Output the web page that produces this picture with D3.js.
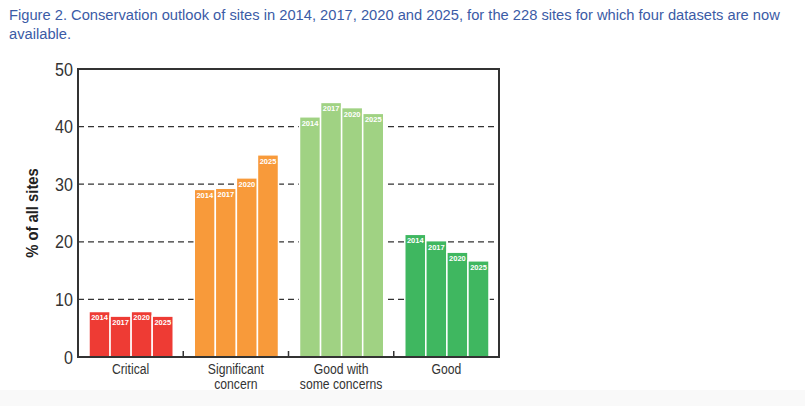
<!DOCTYPE html>
<html>
<head>
<meta charset="utf-8">
<script src="https://cdn.jsdelivr.net/npm/d3@7"></script>
<style>
  body { margin: 0; background: #fff; }
  svg { display: block; }
  .narrow { font-family: "Liberation Sans Narrow", "Arial Narrow", "Liberation Sans", sans-serif; }
</style>
</head>
<body>
<div id="chart"></div>
<script>
// data
var categories = ["Critical", "Significant concern", "Good with some concerns", "Good"];
var categoryLines = [["Critical"], ["Significant", "concern"], ["Good with", "some concerns"], ["Good"]];
var years = ["2014", "2017", "2020", "2025"];
var critical = [7.9, 7.1, 7.9, 7.1];
var significant = [29.1, 29.3, 31.1, 35.1];
var goodConcerns = [41.7, 44.2, 43.3, 42.3];
var good = [21.3, 20.2, 18.2, 16.7];
var yTicks = [0, 10, 20, 30, 40, 50];

var seriesByCategory = [critical, significant, goodConcerns, good];
var colors = ["#ee3b34", "#f89a3a", "#a0d283", "#3fb760"];

var width = 805, height = 406;
var plot = { left: 78, right: 499, top: 69, bottom: 357 };
var squeeze = 0.87; // fake a condensed face, no narrow font installed

var svg = d3.select("#chart").append("svg")
  .attr("width", width)
  .attr("height", height);

// light band at the bottom of the screenshot
svg.append("rect")
  .attr("x", 0).attr("y", 390)
  .attr("width", width).attr("height", height - 390)
  .attr("fill", "#f9f9f9");

// title
var title = svg.append("text")
  .attr("class", "narrow")
  .attr("fill", "#3b5ba6")
  .attr("font-size", 14.7);
title.append("tspan").attr("x", 9).attr("y", 20)
  .text("Figure 2. Conservation outlook of sites in 2014, 2017, 2020 and 2025, for the 228 sites for which four datasets are now");
title.append("tspan").attr("x", 9).attr("y", 39)
  .text("available.");

var y = d3.scaleLinear().domain([0, 50]).range([plot.bottom, plot.top]);
var x0 = d3.scaleBand().domain(categories).range([plot.left, plot.right]);
var x1 = d3.scaleBand().domain(years).range([11, x0.bandwidth() - 10]);

var g = svg.append("g");

// dashed grid lines
g.selectAll("line.grid")
  .data(yTicks.filter(function(d){ return d > 0 && d < 50; }))
  .enter().append("line")
  .attr("class", "grid")
  .attr("x1", plot.left).attr("x2", plot.right)
  .attr("y1", function(d){ return y(d); })
  .attr("y2", function(d){ return y(d); })
  .attr("stroke", "#333")
  .attr("stroke-width", 1.2)
  .attr("stroke-dasharray", "6,4");

// bars
categories.forEach(function(cat, i){
  var col = g.append("g")
    .attr("transform", "translate(" + x0(cat) + ",0)");

  col.selectAll("rect")
    .data(seriesByCategory[i])
    .enter().append("rect")
    .attr("x", function(d, j){ return x1(years[j]); })
    .attr("y", function(d){ return y(d); })
    .attr("width", x1.bandwidth())
    .attr("height", function(d){ return y(0) - y(d); })
    .attr("fill", colors[i])
    .attr("stroke", "#fff")
    .attr("stroke-width", 1.5);

  col.selectAll("text")
    .data(seriesByCategory[i])
    .enter().append("text")
    .attr("class", "narrow")
    .attr("x", function(d, j){ return x1(years[j]) + x1.bandwidth() / 2; })
    .attr("y", function(d){ return y(d) + 9; })
    .attr("text-anchor", "middle")
    .attr("font-size", 7.5)
    .attr("font-weight", "bold")
    .attr("fill", "#fff")
    .text(function(d, j){ return years[j]; });
});

// small ticks between groups
g.selectAll("line.sep")
  .data(categories.slice(1))
  .enter().append("line")
  .attr("x1", function(d){ return x0(d); })
  .attr("x2", function(d){ return x0(d); })
  .attr("y1", plot.bottom)
  .attr("y2", plot.bottom - 6)
  .attr("stroke", "#333")
  .attr("stroke-width", 1.5);

// frame
g.append("rect")
  .attr("x", plot.left).attr("y", plot.top)
  .attr("width", plot.right - plot.left)
  .attr("height", plot.bottom - plot.top)
  .attr("fill", "none")
  .attr("stroke", "#333")
  .attr("stroke-width", 2);

// y tick labels
g.selectAll("text.ytick")
  .data(yTicks)
  .enter().append("text")
  .attr("class", "narrow ytick")
  .attr("transform", function(d){ return "translate(" + (plot.left - 5) + "," + (y(d) + 6.5) + ") scale(" + squeeze + ",1)"; })
  .attr("text-anchor", "end")
  .attr("font-size", 18.5)
  .attr("fill", "#333")
  .text(function(d){ return d; });

// y axis title
svg.append("text")
  .attr("class", "narrow")
  .attr("transform", "translate(38," + ((plot.top + plot.bottom) / 2) + ") rotate(-90) scale(" + squeeze + ",1)")
  .attr("text-anchor", "middle")
  .attr("font-size", 17)
  .attr("font-weight", "bold")
  .attr("fill", "#222")
  .text("% of all sites");

// category labels
categories.forEach(function(cat, i){
  var t = svg.append("text")
    .attr("class", "narrow")
    .attr("transform", "translate(" + (x0(cat) + x0.bandwidth() / 2) + ",0) scale(" + squeeze + ",1)")
    .attr("text-anchor", "middle")
    .attr("font-size", 14)
    .attr("fill", "#333");
  categoryLines[i].forEach(function(line, k){
    t.append("tspan")
      .attr("x", 0)
      .attr("y", 374.5 + k * 15)
      .text(line);
  });
});
</script>
</body>
</html>
